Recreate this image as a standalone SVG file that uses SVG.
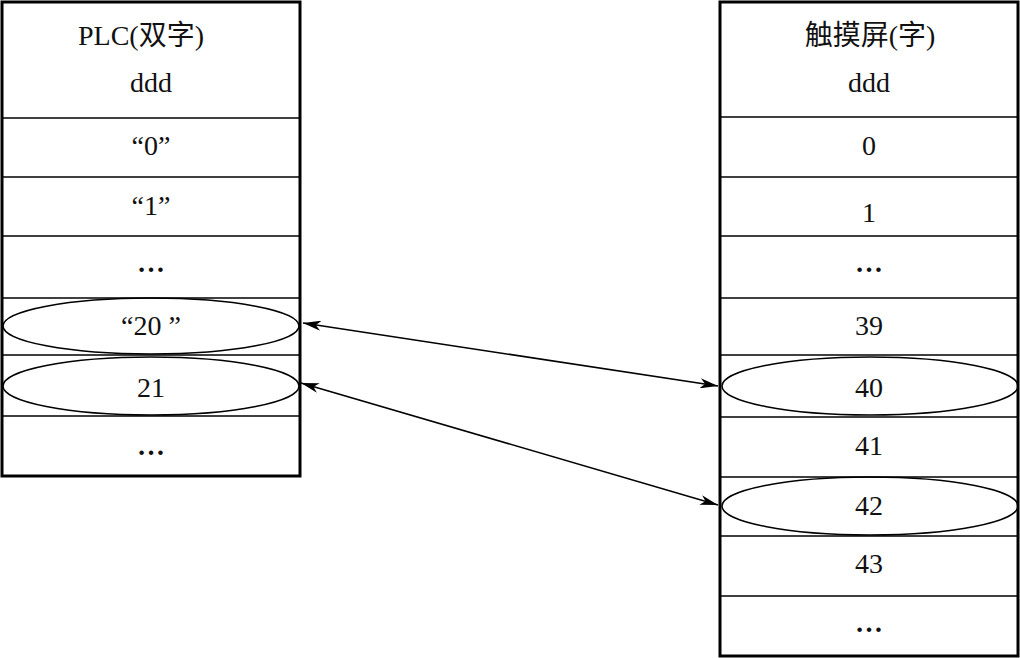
<svg xmlns="http://www.w3.org/2000/svg" width="1020" height="658" viewBox="0 0 1020 658">
<style>
.box{fill:#fff;stroke:#000;stroke-width:3}
.div{stroke:#000;stroke-width:1.5}
.ell{fill:none;stroke:#000;stroke-width:1.5}
.t{font-family:"Liberation Serif","Noto Sans CJK SC",serif;font-size:28px;fill:#111;text-anchor:middle}
.d{font-weight:bold}
.conn{stroke:#000;stroke-width:1.5;fill:none}
</style>
<defs>
<marker id="ah" markerUnits="userSpaceOnUse" markerWidth="20" markerHeight="10" refX="18" refY="5" orient="auto-start-reverse" viewBox="0 0 20 10">
<path d="M0,0 L18,5 L0,10 L5,5 Z" fill="#000"/>
</marker>
</defs>
<rect width="1020" height="658" fill="#fff"/>
<g id="plc">
<rect class="box" x="2" y="2" width="298" height="474"/>
<line class="div" x1="2" y1="118" x2="300" y2="118"/>
<line class="div" x1="2" y1="177" x2="300" y2="177"/>
<line class="div" x1="2" y1="236" x2="300" y2="236"/>
<line class="div" x1="2" y1="298" x2="300" y2="298"/>
<line class="div" x1="2" y1="355" x2="300" y2="355"/>
<line class="div" x1="2" y1="416" x2="300" y2="416"/>
<text class="t" x="141" y="45">PLC(双字)</text>
<text class="t" x="151" y="92">ddd</text>
<text class="t" x="151" y="155">“0”</text>
<text class="t" x="151" y="215">“1”</text>
<text class="t d" x="151" y="272">…</text>
<ellipse class="ell" cx="151" cy="326" rx="148" ry="28"/>
<text class="t" x="151" y="335">“20 ”</text>
<ellipse class="ell" cx="151" cy="386" rx="148" ry="29"/>
<text class="t" x="151" y="397">21</text>
<text class="t d" x="151" y="455">…</text>
</g>
<g id="hmi">
<rect class="box" x="720" y="2" width="298" height="654"/>
<line class="div" x1="720" y1="117" x2="1018" y2="117"/>
<line class="div" x1="720" y1="177" x2="1018" y2="177"/>
<line class="div" x1="720" y1="236" x2="1018" y2="236"/>
<line class="div" x1="720" y1="298" x2="1018" y2="298"/>
<line class="div" x1="720" y1="355" x2="1018" y2="355"/>
<line class="div" x1="720" y1="417" x2="1018" y2="417"/>
<line class="div" x1="720" y1="477" x2="1018" y2="477"/>
<line class="div" x1="720" y1="536" x2="1018" y2="536"/>
<line class="div" x1="720" y1="596" x2="1018" y2="596"/>
<text class="t" x="870" y="45">触摸屏(字)</text>
<text class="t" x="869" y="92">ddd</text>
<text class="t" x="869" y="155">0</text>
<text class="t" x="869" y="222">1</text>
<text class="t d" x="869" y="272">…</text>
<text class="t" x="869" y="335">39</text>
<ellipse class="ell" cx="870" cy="386" rx="148" ry="29"/>
<text class="t" x="869" y="397">40</text>
<text class="t" x="869" y="455">41</text>
<ellipse class="ell" cx="870" cy="506" rx="148" ry="29"/>
<text class="t" x="869" y="515">42</text>
<text class="t" x="869" y="573">43</text>
<text class="t d" x="869" y="632">…</text>
</g>
<g id="connectors">
<line class="conn" x1="303" y1="323" x2="718" y2="386" marker-start="url(#ah)" marker-end="url(#ah)"/>
<line class="conn" x1="301" y1="383" x2="718" y2="505" marker-start="url(#ah)" marker-end="url(#ah)"/>
</g>
</svg>
